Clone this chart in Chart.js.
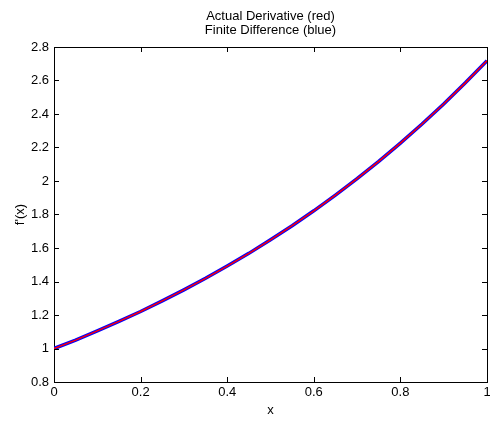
<!DOCTYPE html>
<html><head><meta charset="utf-8">
<script src="https://cdn.jsdelivr.net/npm/chart.js@4"></script>
<style>html,body{margin:0;padding:0;background:#fff}#wrap{width:490px;height:422px}</style>
</head><body><div id="wrap"><canvas id="c" width="490" height="422"></canvas></div>
<script>
const xValues = [0, 0.05, 0.1, 0.15, 0.2, 0.25, 0.3, 0.35, 0.4, 0.45, 0.5, 0.55, 0.6, 0.65, 0.7, 0.75, 0.8, 0.85, 0.9, 0.95, 1];
const actualDerivative = [1.00, 1.05, 1.105, 1.162, 1.221, 1.284, 1.35, 1.419, 1.492, 1.568, 1.649, 1.733, 1.822, 1.916, 2.014, 2.117, 2.226, 2.34, 2.46, 2.586, 2.718];
const finiteDifference = [1.00, 1.05, 1.105, 1.162, 1.221, 1.284, 1.35, 1.419, 1.492, 1.568, 1.649, 1.733, 1.822, 1.916, 2.014, 2.117, 2.226, 2.34, 2.46, 2.586, 2.718];
const xTicks = [0, 0.2, 0.4, 0.6, 0.8, 1];
const yTicks = [0.8, 1, 1.2, 1.4, 1.6, 1.8, 2, 2.2, 2.4, 2.6, 2.8];
const titleLines = ['Actual Derivative (red)', 'Finite Difference (blue)'];

const FONT = {family: '"Liberation Sans", Arial, sans-serif', size: 13};
const fmt = v => String(Math.round(v * 10) / 10);
const TL = 5;

const gridOff = {display: true, drawOnChartArea: false, drawTicks: false};
const border = {display: true, color: '#000', width: 1};
const setX = s => { s.ticks = xTicks.map(v => ({value: v})); };
const setY = s => { s.ticks = yTicks.map(v => ({value: v})); };
const noPad = s => { s.paddingLeft = 0; s.paddingRight = 0; s.paddingTop = 0; s.paddingBottom = 0; };

const inwardTicks = {
  id: 'inwardTicks',
  afterDraw(chart) {
    const ctx = chart.ctx;
    const a = chart.chartArea;
    const sx = chart.scales.x, sy = chart.scales.y;
    ctx.save();
    ctx.strokeStyle = '#000000';
    ctx.lineWidth = 1;
    ctx.beginPath();
    for (const v of xTicks) {
      const p = Math.round(sx.getPixelForValue(v)) + 0.5;
      ctx.moveTo(p, a.bottom); ctx.lineTo(p, a.bottom - TL);
      ctx.moveTo(p, a.top); ctx.lineTo(p, a.top + TL);
    }
    for (const v of yTicks) {
      const p = Math.round(sy.getPixelForValue(v)) + 0.5;
      ctx.moveTo(a.left, p); ctx.lineTo(a.left + TL, p);
      ctx.moveTo(a.right, p); ctx.lineTo(a.right - TL, p);
    }
    ctx.stroke();
    ctx.restore();
  }
};
Chart.register(inwardTicks);

new Chart(document.getElementById('c'), {
  type: 'line',
  data: {
    labels: xValues,
    datasets: [
      {label: 'Actual Derivative', data: xValues.map((x, i) => ({x, y: actualDerivative[i]})),
       borderColor: '#ff0000', borderWidth: 1.5, pointRadius: 0, fill: false, xAxisID: 'x', yAxisID: 'y'},
      {label: 'Finite Difference', data: xValues.map((x, i) => ({x, y: finiteDifference[i]})),
       borderColor: '#0000ff', borderWidth: 3.5, pointRadius: 0, fill: false, xAxisID: 'x', yAxisID: 'y'}
    ]
  },
  options: {
    responsive: false,
    animation: false,
    layout: {padding: 0},
    plugins: {legend: {display: false}, title: {display: false}, tooltip: {enabled: false}},
    scales: {
      x: {
        type: 'linear', position: 'bottom', min: 0, max: 1,
        afterBuildTicks: setX,
        ticks: {color: '#000', font: FONT, padding: 3, maxRotation: 0, autoSkip: false, callback: fmt},
        grid: gridOff, border,
        title: {display: true, text: 'x', color: '#000', font: FONT, padding: {top: 0, bottom: 4}},
        afterFit: s => { s.height = 40; noPad(s); }
      },
      x2: {
        type: 'linear', position: 'top', min: 0, max: 1,
        afterBuildTicks: setX,
        ticks: {display: false, autoSkip: false}, grid: gridOff, border,
        title: {display: true, text: titleLines, color: '#000', font: {...FONT, lineHeight: 14 / 13}, padding: {top: 9, bottom: 0}},
        afterFit: s => { s.height = 47; noPad(s); }
      },
      y: {
        type: 'linear', position: 'left', min: 0.8, max: 2.8,
        afterBuildTicks: setY,
        ticks: {color: '#000', font: FONT, padding: 5, autoSkip: false, callback: fmt},
        grid: gridOff, border,
        title: {display: true, text: "f'(x)", color: '#000', font: FONT, padding: {top: 13, bottom: 0}},
        afterFit: s => { s.width = 54; noPad(s); }
      },
      y2: {
        type: 'linear', position: 'right', min: 0.8, max: 2.8,
        afterBuildTicks: setY,
        ticks: {display: false, autoSkip: false}, grid: gridOff, border,
        afterFit: s => { s.width = 3; noPad(s); }
      }
    }
  }
});
</script>
</body></html>
